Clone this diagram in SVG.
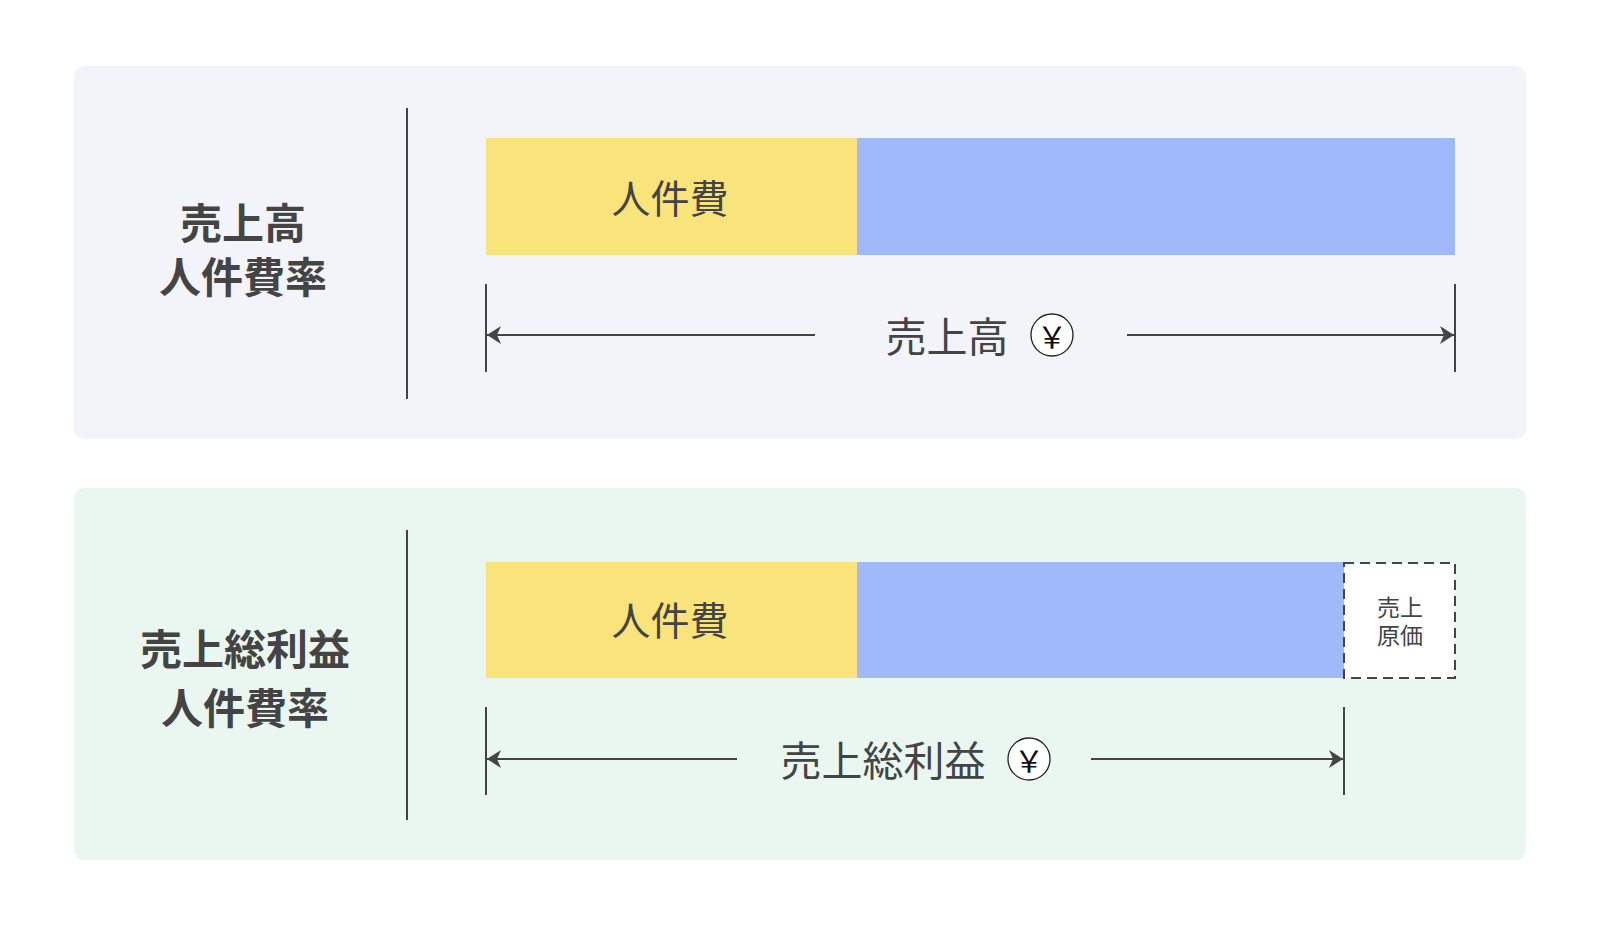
<svg xmlns="http://www.w3.org/2000/svg" width="1600" height="928" viewBox="0 0 1600 928">
<style>
text{font-family:"Noto Sans CJK JP","Noto Sans",sans-serif;fill:#444;text-anchor:middle;dominant-baseline:central}
.title{font-size:42px;font-weight:700}
.lab{font-size:41px;font-weight:400}
.bar{font-size:39px;font-weight:400}
.small{font-size:23px}
.yen{font-size:30px;fill:#111}
.ln{stroke:#444;stroke-width:2;fill:none}
.dim{stroke:#444;stroke-width:2;fill:none}
</style>
<defs>
<marker id="ah" viewBox="0 0 14 18" refX="14" refY="9" markerWidth="14" markerHeight="18" markerUnits="userSpaceOnUse" orient="auto-start-reverse">
<path d="M0,0 L14,9 L0,18 L4,9 Z" fill="#444"/>
</marker>
</defs>
<rect width="1600" height="928" fill="#ffffff"/>
<g id="panel1">
<rect x="74" y="66" width="1452" height="373" rx="10" fill="#f2f4f9"/>
<text class="title" x="243" y="220">売上高</text>
<text class="title" x="243" y="274">人件費率</text>
<line class="ln" x1="407" y1="108" x2="407" y2="399"/>
</g>
<g id="bar1">
<rect x="486" y="138" width="371" height="117" fill="#f9e37b"/>
<rect x="857" y="138" width="598" height="117" fill="#a0b9fa"/>
<text class="bar" x="670" y="196">人件費</text>
</g>
<g id="dim1">
<line class="ln" x1="486" y1="284" x2="486" y2="372"/>
<line class="ln" x1="1455" y1="284" x2="1455" y2="372"/>
<text class="lab" x="947" y="334">売上高</text>
<circle cx="1052" cy="335" r="21" fill="#fff" stroke="#222" stroke-width="1.3"/>
<text class="yen" x="1052" y="335">￥</text>
</g>
<g id="panel2">
<rect x="74" y="488" width="1452" height="372" rx="10" fill="#eaf7f1"/>
<text class="title" x="245" y="646">売上総利益</text>
<text class="title" x="245" y="705">人件費率</text>
<line class="ln" x1="407" y1="530" x2="407" y2="820"/>
</g>
<g id="bar2">
<rect x="486" y="562" width="371" height="116" fill="#f9e37b"/>
<rect x="857" y="562" width="487" height="116" fill="#a0b9fa"/>
<text class="bar" x="670" y="618">人件費</text>
</g>
<g id="cogs">
<rect x="1344" y="563" width="111" height="115" fill="#ffffff" stroke="#444" stroke-width="2" stroke-dasharray="10 6"/>
<text class="small" x="1400" y="606">売上</text>
<text class="small" x="1400" y="634">原価</text>
</g>
<g id="dim2">
<line class="ln" x1="486" y1="707" x2="486" y2="795"/>
<line class="ln" x1="1344" y1="707" x2="1344" y2="795"/>
<text class="lab" x="883" y="758">売上総利益</text>
<circle cx="1029" cy="759" r="21" fill="#fff" stroke="#222" stroke-width="1.3"/>
<text class="yen" x="1029" y="759">￥</text>
</g>
<g id="connectors">
<line class="dim" x1="815" y1="335" x2="487" y2="335" marker-end="url(#ah)"/>
<line class="dim" x1="1127" y1="335" x2="1454" y2="335" marker-end="url(#ah)"/>
<line class="dim" x1="737" y1="759" x2="487" y2="759" marker-end="url(#ah)"/>
<line class="dim" x1="1091" y1="759" x2="1343" y2="759" marker-end="url(#ah)"/>
</g>
</svg>
